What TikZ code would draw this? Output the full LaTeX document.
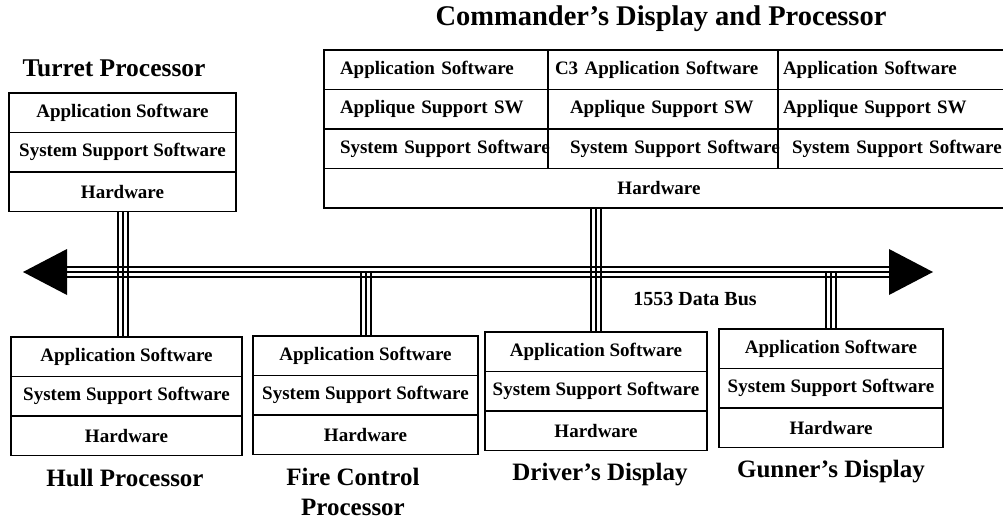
\documentclass[tikz,border=0pt]{standalone}
\usepackage{fontspec}
\setmainfont{Liberation Serif}
\usetikzlibrary{positioning}
\begin{document}
\begin{tikzpicture}[
    x=1pt, y=-1pt,
    layer/.style={draw, rectangle, line width=1.3pt, inner sep=0pt, outer sep=0pt,
        minimum height=39.5pt, font=\fontsize{19}{21}\selectfont\bfseries},
    cell/.style={layer, align=left},
    cola/.style={cell, minimum width=224pt, text width=192pt},
    colb/.style={cell, minimum width=230pt, text width=216pt},
    colc/.style={cell, minimum width=232pt, text width=222pt},
    title/.style={font=\fontsize{25}{30}\selectfont\bfseries, align=center},
    busline/.style={line width=2pt}
]
\useasboundingbox (0,0) rectangle (1003,519);

% Turret
\node[title, font=\fontsize{25.5}{30}\selectfont\bfseries] (turret) at (114,68) {Turret Processor};
\node[layer, minimum width=227pt, anchor=north] (tp1) at (122.5,93) {Application Software};
\node[layer, minimum width=227pt, below=0pt of tp1] (tp2) {System Support Software};
\node[layer, minimum width=227pt, below=0pt of tp2] (tp3) {Hardware};

% Commander
\node[title, font=\fontsize{28.5}{32}\selectfont\bfseries] (cmdr) at (661,19) {Commander's Display and Processor};
\node[cola, anchor=north west] (ca1) at (324,50) {Application Software};
\node[cola, below=0pt of ca1] (ca2) {Applique Support SW};
\node[cola, below=0pt of ca2] (ca3) {\mbox{System Support Software}};
\node[colb, right=0pt of ca1] (cb1) {\mbox{C3 Application Software}};
\node[colb, right=0pt of ca2] (cb2) {\mbox{\hspace*{15pt}Applique Support SW}};
\node[colb, right=0pt of ca3] (cb3) {\mbox{\hspace*{15pt}System Support Software}};
\node[colc, right=0pt of cb1] (cc1) {Application Software};
\node[colc, right=0pt of cb2] (cc2) {Applique Support SW};
\node[colc, right=0pt of cb3] (cc3) {\mbox{\hspace*{9pt}System Support Software}};
\node[layer, minimum width=686pt, anchor=north west] (chw) at (ca3.south west) {\hspace*{-16pt}Hardware};

% Bus
\coordinate (busL) at (23,272);
\coordinate (busR) at (933,272);
\foreach \d in {-5,0,5}
    \draw[busline] ([xshift=40pt, yshift=\d pt]busL) -- ([xshift=-40pt, yshift=\d pt]busR);
\fill (busL) -- ++(44,-23) -- ++(0,46) -- cycle;
\fill (busR) -- ++(-44,-23) -- ++(0,46) -- cycle;
\node[font=\fontsize{20}{24}\selectfont\bfseries] (buslabel) at (695,299) {1553 Data Bus};

% Lower units
\node[layer, minimum width=231pt, anchor=north] (hp1) at (126.5,337) {Application Software};
\node[layer, minimum width=231pt, below=0pt of hp1] (hp2) {System Support Software};
\node[layer, minimum width=231pt, below=0pt of hp2] (hp3) {Hardware};
\node[title] (hull) at (125,478) {Hull Processor};

\node[layer, minimum width=225pt, anchor=north] (fc1) at (365.5,336) {Application Software};
\node[layer, minimum width=225pt, below=0pt of fc1] (fc2) {System Support Software};
\node[layer, minimum width=225pt, below=0pt of fc2] (fc3) {Hardware};
\node[title] (fire) at (353,492) {Fire Control\\Processor};

\node[layer, minimum width=222pt, anchor=north] (dd1) at (596,332) {Application Software};
\node[layer, minimum width=222pt, below=0pt of dd1] (dd2) {System Support Software};
\node[layer, minimum width=222pt, below=0pt of dd2] (dd3) {Hardware};
\node[title] (driver) at (600,475) {Driver's Display};

\node[layer, minimum width=224pt, anchor=north] (gd1) at (831,329) {Application Software};
\node[layer, minimum width=224pt, below=0pt of gd1] (gd2) {System Support Software};
\node[layer, minimum width=224pt, below=0pt of gd2] (gd3) {Hardware};
\node[title] (gunner) at (831,472) {Gunner's Display};

% Stubs
\foreach \d in {-5,0,5} {
    \draw[busline] ([xshift=\d pt]tp3.south) -- ([xshift=\d pt]tp3.south |- hp1.north);
    \draw[busline] ([xshift=\d pt]dd1.north) -- ([xshift=\d pt]dd1.north |- chw.south);
    \draw[busline] ([xshift=\d pt]fc1.north) -- ([xshift=\d pt]fc1.north |- busL);
    \draw[busline] ([xshift=\d pt]gd1.north) -- ([xshift=\d pt]gd1.north |- busL);
}
\end{tikzpicture}
\end{document}
